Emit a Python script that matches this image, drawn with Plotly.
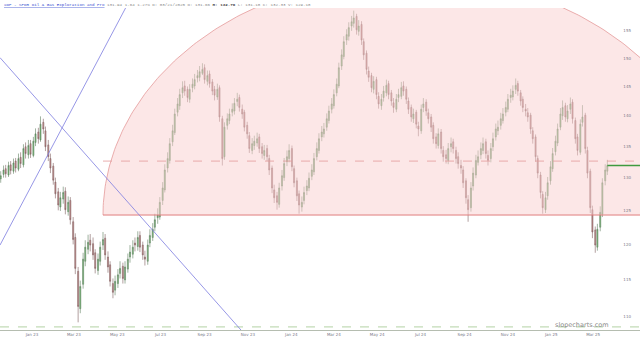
import numpy as np
import pandas as pd
import plotly.graph_objects as go

# ---------------- data ----------------
close = [130.3,131.2,130.6,131.9,131.1,132.3,131.5,133.0,132.2,134.6,
133.8,135.1,133.7,135.8,137.0,136.2,138.6,137.8,134.9,133.3,
131.5,129.6,127.5,125.8,126.9,127.7,125.1,126.2,123.6,120.7,
116.6,111.4,114.1,117.9,119.6,120.3,119.9,118.5,116.6,117.9,
119.6,120.7,118.5,116.8,114.8,113.3,114.8,115.7,116.6,115.2,
116.8,117.9,118.9,119.6,119.9,121.0,119.6,118.5,117.9,119.9,
121.3,122.2,123.6,124.3,126.2,128.4,131.2,133.0,135.4,137.5,
140.3,142.0,143.6,144.8,144.2,143.1,144.5,145.4,146.2,146.9,
147.6,148.0,146.2,146.9,145.5,144.2,143.5,144.5,139.8,133.0,
138.1,139.5,140.3,141.1,142.1,142.8,141.4,140.3,138.1,137.0,
134.6,135.4,135.8,136.2,134.6,133.8,134.3,133.3,131.2,128.4,
126.9,126.2,128.4,130.3,132.2,133.3,134.3,131.7,129.2,127.2,
125.8,126.2,127.7,128.7,129.9,131.2,133.0,134.6,136.2,137.3,
137.8,139.5,140.8,142.0,143.6,145.4,148.3,150.6,153.0,154.3,
155.6,156.7,157.4,155.2,155.9,153.3,150.6,148.0,146.6,144.8,
145.9,143.6,142.0,142.8,144.2,145.2,143.6,142.5,141.4,142.8,
143.6,144.8,144.2,142.8,141.1,139.8,140.3,138.6,137.8,141.1,
142.0,140.8,139.5,138.1,136.2,135.4,137.0,134.6,133.3,133.0,
134.6,135.4,134.6,133.0,132.2,131.5,129.2,126.9,125.1,128.4,
130.7,132.7,133.3,134.6,135.4,133.8,132.7,134.6,136.2,137.8,
138.1,139.5,140.3,141.4,142.8,143.5,144.2,145.2,144.2,142.5,
141.4,140.8,139.8,137.8,136.2,133.3,130.7,127.7,125.4,126.9,
129.2,131.7,133.8,135.8,137.8,140.3,141.4,139.8,140.8,142.0,
139.5,136.2,134.3,138.6,139.8,134.6,130.7,125.4,121.8,119.9,
122.2,124.7,129.2,131.2,131.9]

open_ = [129.8,130.5,131.4,130.4,132.0,131.0,132.6,131.3,133.2,132.0,
134.9,133.6,135.4,133.5,135.6,137.3,136.0,138.9,137.5,135.2,
133.0,131.8,129.3,127.8,125.5,126.7,127.9,124.8,126.5,123.3,
121.0,116.2,111.1,114.4,117.6,119.3,120.6,120.1,118.8,116.3,
117.6,119.9,120.9,118.2,117.1,114.5,113.6,114.5,115.9,116.9,
115.0,116.5,118.2,118.6,120.2,119.7,121.3,119.9,118.2,117.6,
120.2,121.0,122.5,123.9,124.0,126.5,128.1,131.5,132.7,135.7,
137.2,140.6,141.7,143.9,145.1,144.5,142.8,144.8,145.1,146.5,
146.6,147.3,148.3,145.9,147.2,145.8,144.5,143.2,144.8,139.5,
133.3,138.4,139.2,140.6,140.8,142.4,143.1,141.1,140.6,138.4,
136.7,134.3,135.1,135.5,136.5,134.9,133.5,134.6,133.0,131.5,
128.1,127.2,125.9,128.7,130.0,132.5,133.0,134.6,131.4,129.5,
127.5,125.5,126.5,128.0,128.4,130.2,130.9,133.3,134.3,136.5,
137.0,138.1,139.2,141.1,141.7,143.9,145.1,148.6,150.3,153.3,
154.0,155.9,156.4,157.7,154.9,156.2,153.0,150.9,147.7,146.9,
144.5,146.2,143.3,141.7,143.1,143.9,145.5,143.9,142.2,141.1,
143.1,143.3,145.1,144.5,142.5,141.4,139.5,140.6,138.3,137.5,
141.4,142.3,140.5,139.8,138.4,136.5,135.1,137.3,134.3,133.6,
132.7,134.9,135.7,134.3,133.3,131.9,131.2,129.5,126.6,125.4,
128.7,130.4,132.4,133.6,134.3,135.7,133.5,133.0,134.9,136.5,
137.5,138.4,139.2,140.6,141.1,143.1,143.2,144.5,145.5,143.9,
142.8,141.1,140.5,140.1,137.5,136.5,133.0,130.4,127.4,125.1,
127.2,129.5,131.4,134.1,135.5,138.1,140.0,141.7,139.5,141.1,
142.3,139.2,136.5,134.0,138.9,140.1,134.3,131.0,125.1,122.1,
119.6,122.5,124.4,129.5,131.0]

high = [131.0,131.9,132.0,132.5,132.6,133.0,133.1,133.8,134.0,135.3,
135.6,136.0,136.0,136.5,137.9,138.0,139.9,139.5,138.2,136.0,
133.8,132.3,130.0,128.4,127.8,128.6,128.5,127.1,127.0,124.0,
121.6,116.8,114.9,118.8,120.6,121.4,121.5,121.0,119.3,118.7,
120.4,121.8,121.5,119.0,117.6,115.2,115.6,116.5,117.6,117.4,
117.6,118.7,119.9,120.6,121.0,121.9,121.9,120.4,119.1,120.7,
122.2,123.1,124.5,125.3,127.0,129.3,132.1,134.0,136.3,138.5,
141.2,143.0,144.6,145.9,146.0,145.0,145.4,146.4,147.2,147.9,
148.6,149.1,148.9,147.8,147.8,146.3,145.1,145.5,145.2,140.0,
138.9,140.4,141.2,142.1,143.0,143.9,143.6,141.9,141.0,139.0,
137.3,136.3,136.7,137.2,137.0,135.5,135.2,135.2,133.6,131.9,
128.9,127.8,129.2,131.2,133.1,134.3,135.3,135.1,131.9,130.0,
128.0,127.1,128.6,129.6,130.8,132.1,133.9,135.6,137.1,138.3,
138.8,140.4,141.7,143.0,144.5,146.4,149.2,151.6,154.0,155.3,
156.6,157.8,158.8,158.2,157.0,156.8,153.6,151.4,148.5,147.4,
146.8,146.7,144.0,143.7,145.1,146.2,146.0,144.4,143.0,143.7,
144.6,145.8,145.9,145.0,143.1,141.9,141.2,141.0,139.0,141.9,
143.0,142.8,141.2,140.3,138.9,137.1,137.9,137.8,135.0,134.4,
135.5,136.4,136.2,134.9,134.0,132.8,131.8,129.9,127.3,129.3,
131.6,133.6,134.3,135.6,136.4,136.2,134.3,135.5,137.2,138.7,
139.2,140.5,141.3,142.4,143.7,144.6,145.2,146.4,146.0,144.4,
143.3,142.0,141.3,140.5,138.1,136.9,133.5,130.9,127.9,127.8,
130.1,132.6,134.7,136.7,138.7,141.3,142.6,142.2,141.8,143.1,
142.8,139.7,137.0,139.4,141.8,140.5,134.9,131.4,125.7,122.6,
123.0,125.6,129.9,132.1,132.8]

low = [129.2,130.0,130.0,130.1,130.5,130.6,130.8,131.0,131.5,131.6,
133.0,133.0,133.1,133.2,135.0,135.4,135.7,137.0,134.2,132.6,
130.7,128.9,126.8,125.0,124.9,126.0,124.4,124.2,122.9,120.0,
115.8,109.3,110.5,113.8,116.9,118.6,119.0,117.8,115.9,115.7,
117.0,119.2,117.8,116.0,114.1,112.5,112.9,113.9,115.2,114.5,
114.5,116.0,117.4,118.0,119.0,119.1,118.9,117.8,117.0,117.1,
119.6,120.5,121.9,123.0,123.6,125.8,127.7,130.8,132.2,135.0,
136.8,139.9,141.0,143.0,143.4,142.3,142.2,144.0,144.5,145.7,
145.9,147.0,145.5,145.2,144.8,143.5,142.6,142.7,139.0,131.9,
132.8,137.7,138.6,139.9,140.2,141.6,140.7,139.5,137.4,136.2,
133.9,133.7,134.4,134.9,133.9,133.0,132.8,132.6,130.4,127.6,
126.1,125.1,125.4,128.0,129.5,131.8,132.4,131.0,128.5,126.4,
124.5,124.8,125.9,127.3,127.9,129.6,130.4,132.7,133.8,135.8,
136.4,137.5,138.7,140.4,141.2,143.3,144.7,147.9,149.8,152.4,
153.2,155.0,155.6,154.3,154.1,152.4,149.7,147.1,145.8,144.0,
143.8,142.8,141.2,141.0,142.4,143.3,142.8,141.7,140.5,140.6,
142.3,142.8,143.4,142.0,140.3,139.0,138.8,137.9,136.6,137.0,
140.6,140.0,138.7,137.3,135.4,134.6,134.6,133.8,132.5,132.2,
132.1,134.0,133.8,132.2,131.4,130.6,128.4,126.0,123.3,124.8,
128.0,129.9,131.9,132.9,133.7,133.0,131.9,132.4,134.2,135.9,
136.8,137.7,138.7,139.9,140.6,142.2,142.6,143.7,143.4,141.7,
140.6,139.9,139.0,137.0,135.4,132.5,129.9,126.8,124.5,124.6,
126.6,128.9,130.9,133.5,135.0,137.6,139.3,139.0,138.9,140.3,
138.7,135.4,133.5,133.6,138.2,133.8,129.9,124.6,120.9,118.8,
119.1,121.9,124.0,128.8,130.4]

fridays = pd.date_range("2022-11-18", "2025-03-21", freq="W-FRI")
tuesdays = pd.date_range("2022-11-22", "2025-03-18", freq="W-TUE")
dates = fridays.union(tuesdays)[:len(close)]

y_ticks = [110, 115, 120, 125, 130, 135, 140, 145, 150, 155]

X_START, X_END = "2022-11-17", "2025-05-06"
Y_MIN, Y_MAX = 108.3, 159.3

# drawing objects (trend lines and arc)
line_a = (["2022-11-17", "2023-10-28"], [150.1, 107.7])
line_b = (["2022-11-17", "2023-05-19"], [119.9, 160.9])
arc_center = "2024-06-15"
arc_half_days = 431
arc_base = 124.3
arc_top = 165.7
arc_mid = 132.6
last_price = 131.9
bottom_dash = 108.7

# ---------------- figure ----------------
fig = go.Figure()

# arc (upper half ellipse in date / log-price space)
t = np.linspace(0, np.pi, 240)
c = pd.Timestamp(arc_center)
arc_x = c + pd.to_timedelta(arc_half_days * np.cos(t), unit="D")
arc_y = 10 ** (np.log10(arc_base) + (np.log10(arc_top) - np.log10(arc_base)) * np.sin(t))
fig.add_trace(go.Scatter(x=arc_x, y=arc_y, mode="lines", fill="toself",
                         fillcolor="rgba(250,208,208,0.5)",
                         line=dict(color="#e49a9a", width=0.8), hoverinfo="skip"))
arc_left = c - pd.Timedelta(days=arc_half_days)
fig.add_trace(go.Scatter(x=[arc_left, X_END], y=[arc_base, arc_base], mode="lines",
                         line=dict(color="#e07c7c", width=1), hoverinfo="skip"))
fig.add_trace(go.Scatter(x=[arc_left, X_END], y=[arc_mid, arc_mid], mode="lines",
                         line=dict(color="#e59a9a", width=0.8, dash="dash"), hoverinfo="skip"))

# bottom dashed line
fig.add_trace(go.Scatter(x=[X_START, X_END], y=[bottom_dash, bottom_dash], mode="lines",
                         line=dict(color="#a9cc9a", width=0.9, dash="dash"), hoverinfo="skip"))

# trend lines
for lx, ly in (line_a, line_b):
    fig.add_trace(go.Scatter(x=lx, y=ly, mode="lines",
                             line=dict(color="#7c7ce0", width=0.8), hoverinfo="skip"))

# candles
fig.add_trace(go.Candlestick(
    x=dates, open=open_, high=high, low=low, close=close,
    increasing=dict(line=dict(color="#5f7f5f", width=0.6), fillcolor="#74bd74"),
    decreasing=dict(line=dict(color="#806060", width=0.6), fillcolor="#c98a8a"),
    whiskerwidth=0,
))

# last price line
fig.add_trace(go.Scatter(x=[dates[-1], X_END], y=[last_price, last_price], mode="lines",
                         line=dict(color="#3f9a3f", width=1.6), hoverinfo="skip"))

fig.update_layout(
    width=640, height=341,
    margin=dict(l=0, r=0, t=8, b=11),
    paper_bgcolor="white", plot_bgcolor="white",
    showlegend=False,
    xaxis=dict(type="date", range=[X_START, X_END], rangeslider=dict(visible=False),
               showgrid=False, zeroline=False, showline=True, linecolor="#b5bdb0",
               linewidth=1, tick0="2023-01-01", dtick="M2", tickformat="%b %y",
               ticks="", tickfont=dict(family="DejaVu Sans", size=4, color="#7a7a8a")),
    yaxis=dict(type="log", range=[np.log10(Y_MIN), np.log10(Y_MAX)], side="right",
               ticklabelposition="inside", tickvals=y_ticks,
               ticktext=[str(v) for v in y_ticks], showgrid=False, zeroline=False,
               ticks="", ticklabelstandoff=6,
               tickfont=dict(family="DejaVu Sans", size=4, color="#7a7a8a")),
    font=dict(family="DejaVu Sans"),
)

header = ("<span style='color:#3a4fd0;text-decoration:underline'>XOP - SPDR Oil &amp; Gas Exploration and Pro</span>"
          "<span style='color:#8a8a8a'> 131.94 1.64 1.27% D: 03/21/2025 O: 131.66 </span>"
          "<span style='color:#444'><b>H: 132.76</b></span>"
          "<span style='color:#8a8a8a'> L: 131.18 C: 132.33 V: 129.18</span>")
fig.add_annotation(text=header, xref="paper", yref="paper", x=0.003, y=1.022,
                   xanchor="left", yanchor="top", showarrow=False,
                   font=dict(family="Liberation Mono", size=4.2, color="#8a8a8a"))
fig.add_annotation(text="slopecharts.com", xref="paper", yref="paper", x=0.91, y=0.016,
                   xanchor="center", yanchor="middle", showarrow=False,
                   font=dict(family="DejaVu Sans", size=6.5, color="#8a8a8a"))

fig.write_html("out.html")
